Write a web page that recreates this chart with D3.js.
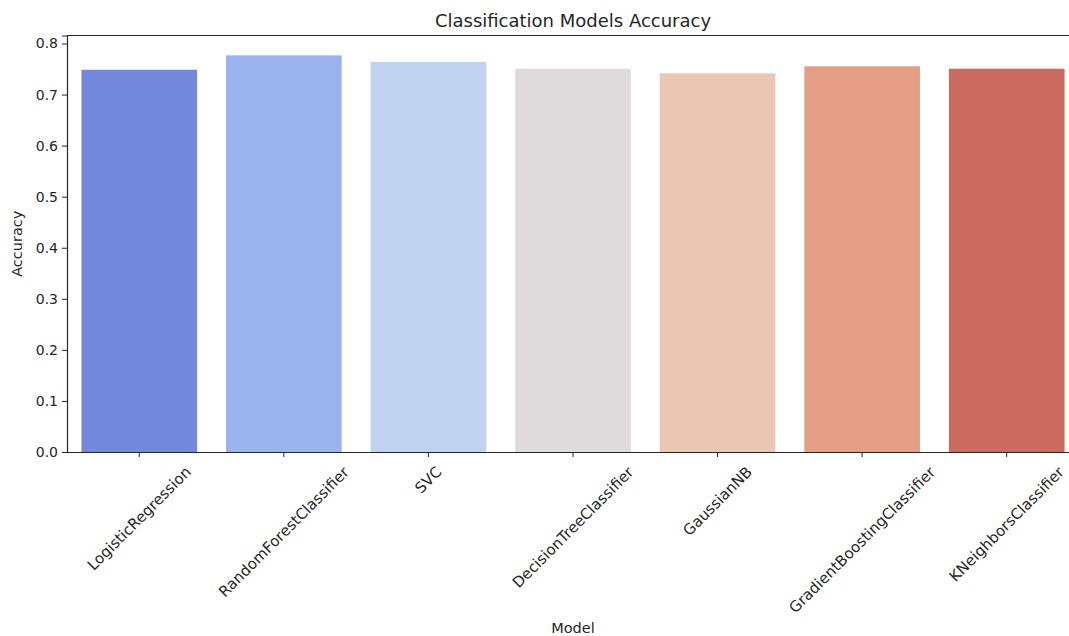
<!DOCTYPE html>
<html>
<head>
<meta charset="utf-8">
<script src="https://cdn.jsdelivr.net/npm/d3@7"></script>
<style>
  html, body { margin: 0; padding: 0; background: #fff; }
  svg { display: block; font-family: "DejaVu Sans", sans-serif; }
</style>
</head>
<body>
<svg id="chart" width="1069" height="636"></svg>
<script>
const categories = ["LogisticRegression", "RandomForestClassifier", "SVC", "DecisionTreeClassifier", "GaussianNB", "GradientBoostingClassifier", "KNeighborsClassifier"];
const accuracy = [0.7486, 0.7768, 0.7637, 0.7506, 0.7415, 0.7553, 0.7506];
const barColors = ["#7489dc", "#9bb4ee", "#c1d1f0", "#dfdbdc", "#ebc6b3", "#e49e86", "#cb6b5f"];
const yTicks = [0.0, 0.1, 0.2, 0.3, 0.4, 0.5, 0.6, 0.7, 0.8];
const title = "Classification Models Accuracy";
const xTitle = "Model";
const yTitle = "Accuracy";

(function () {
const svg = d3.select("#chart");
const mLeft = 67, mRight = 1079, mTop = 35.5, mBottom = 452;
const textColor = "#262626";

const x = d3.scaleBand().domain(categories).range([mLeft, mRight]).paddingInner(0.2).paddingOuter(0.1);
const yMax = d3.max(accuracy) * 1.05;
const y = d3.scaleLinear().domain([0, yMax]).range([mBottom, mTop]);

// bars
svg.append("g").selectAll("rect").data(categories).join("rect")
  .attr("x", d => x(d))
  .attr("width", x.bandwidth())
  .attr("y", (d, i) => y(accuracy[i]))
  .attr("height", (d, i) => y(0) - y(accuracy[i]))
  .attr("fill", (d, i) => barColors[i]);

// y axis
const yAxis = svg.append("g").attr("transform", `translate(${mLeft},0)`)
  .call(d3.axisLeft(y).tickValues(yTicks).tickFormat(d3.format(".1f")).tickSize(5).tickPadding(4));
yAxis.select(".domain").attr("stroke", textColor).attr("stroke-width", 1.2);
yAxis.selectAll(".tick line").attr("stroke", textColor).attr("stroke-width", 1);
yAxis.selectAll(".tick text").attr("fill", textColor).style("font-size", "14px").style("font-family", "DejaVu Sans");

// x axis
const xAxis = svg.append("g").attr("transform", `translate(0,${mBottom})`)
  .call(d3.axisBottom(x).tickSize(5).tickSizeOuter(0));
xAxis.select(".domain").attr("stroke", textColor).attr("stroke-width", 1.2);
xAxis.selectAll(".tick line").attr("stroke", textColor).attr("stroke-width", 1);
xAxis.selectAll(".tick text").attr("fill", textColor)
  .style("font-size", "15px").style("font-family", "DejaVu Sans")
  .attr("text-anchor", "middle").attr("dominant-baseline", "central").attr("dy", null).attr("y", 0)
  .each(function () {
    const bb = this.getBBox();
    const half = (bb.width + 15) / (2 * Math.SQRT2);
    d3.select(this).attr("transform", `translate(0,${12 + half}) rotate(-45)`);
  });

// top spine
svg.append("line").attr("x1", mLeft).attr("x2", mRight).attr("y1", mTop).attr("y2", mTop)
  .attr("stroke", textColor).attr("stroke-width", 1.2);
// right spine
svg.append("line").attr("x1", mRight).attr("x2", mRight).attr("y1", mTop).attr("y2", mBottom)
  .attr("stroke", textColor).attr("stroke-width", 1.2);

// title
svg.append("text").attr("x", (mLeft + mRight) / 2).attr("y", 27).attr("text-anchor", "middle")
  .attr("fill", textColor).style("font-size", "18px").text(title);

// axis titles
svg.append("text").attr("x", (mLeft + mRight) / 2).attr("y", 633).attr("text-anchor", "middle")
  .attr("fill", textColor).style("font-size", "14.5px").text(xTitle);
svg.append("text").attr("transform", `translate(22,${(mTop + mBottom) / 2}) rotate(-90)`).attr("text-anchor", "middle")
  .attr("fill", textColor).style("font-size", "14.5px").text(yTitle);
})();
</script>
</body>
</html>
